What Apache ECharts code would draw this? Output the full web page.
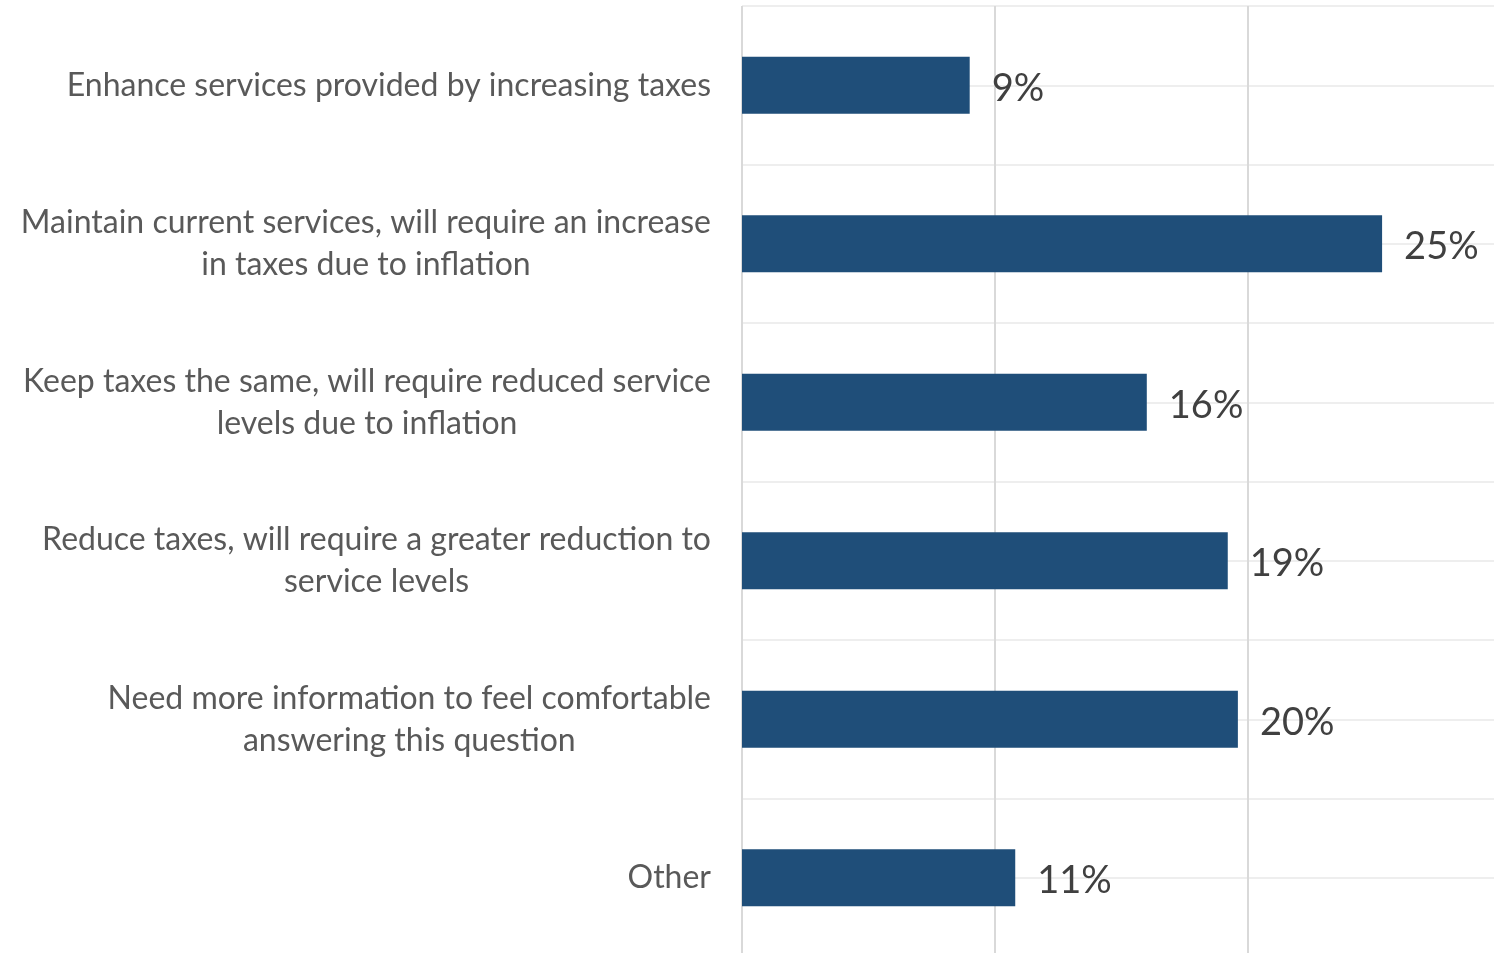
<!DOCTYPE html>
<html>
<head>
<meta charset="utf-8">
<script src="https://cdn.jsdelivr.net/npm/echarts@6/dist/echarts.min.js"></script>
<style>
html,body{margin:0;padding:0;background:#fff;width:1494px;height:953px;overflow:hidden;}
#chart{width:1501px;height:957px;}
</style>
</head>
<body>
<div id="chart"></div>
<script>
const categories = [
  "Enhance services provided by increasing taxes",
  "Maintain current services, will require an increase\nin taxes due to inflation",
  "Keep taxes the same, will require reduced service\nlevels due to inflation",
  "Reduce taxes, will require a greater reduction to\nservice levels",
  "Need more information to feel comfortable\nanswering this question",
  "Other"
];
const values = [9.0, 25.3, 16.0, 19.2, 19.6, 10.8];
const xTicks = [0, 10, 20, 30];
const halfSteps = categories.flatMap(() => ["", ""]);

const chart = echarts.init(document.getElementById('chart'));
chart.setOption({
  animation: false,
  backgroundColor: '#ffffff',
  grid: { left: 742, top: 6, right: 0, bottom: 0, containLabel: false },
  xAxis: {
    type: 'value',
    min: xTicks[0],
    max: xTicks[xTicks.length - 1],
    interval: xTicks[1] - xTicks[0],
    axisLabel: { show: false },
    axisTick: { show: false },
    axisLine: { show: false },
    splitLine: { show: true, lineStyle: { color: '#d9d9d9', width: 2 } }
  },
  yAxis: [
    {
      type: 'category',
      data: categories,
      inverse: true,
      axisLine: { show: false },
      axisTick: { show: false },
      splitLine: { show: false },
      axisLabel: {
        margin: 31,
        align: 'right',
        color: '#595959',
        fontFamily: 'Lato',
        fontSize: 32,
        lineHeight: 42,
        formatter: function (v) {
          return v.split('\n').map(l => '{c|' + l + '}').join('\n');
        },
        rich: {
          c: { align: 'center', color: '#595959', fontFamily: 'Lato', fontSize: 32, lineHeight: 42 }
        }
      }
    },
    {
      type: 'category',
      data: halfSteps,
      inverse: true,
      position: 'right',
      axisLine: { show: false },
      axisTick: { show: false },
      axisLabel: { show: false },
      splitLine: { show: true, lineStyle: { color: '#eeeeee', width: 2 } }
    }
  ],
  series: [{
    type: 'bar',
    yAxisIndex: 0,
    data: values,
    barWidth: 57,
    itemStyle: { color: '#1F4E79' },
    label: {
      show: true,
      position: 'right',
      distance: 22,
      offset: [0, 3],
      color: '#404040',
      fontFamily: 'Lato',
      fontSize: 38,
      formatter: p => Math.round(p.value) + '%'
    }
  }]
});
</script>
</body>
</html>
